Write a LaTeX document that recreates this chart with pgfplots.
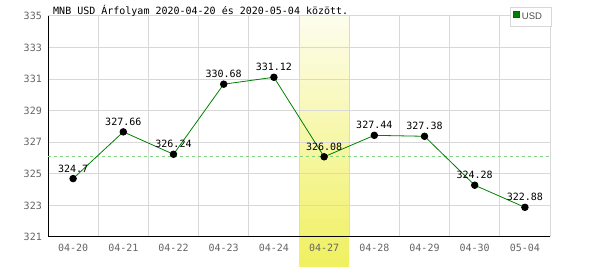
\documentclass[border=0pt]{standalone}
\usepackage{pgfplots}
\pgfplotsset{compat=1.18}
\usepackage{fontspec}
\setmainfont{DejaVu Sans}
\newfontfamily\monofont{DejaVu Sans Mono}
\newfontfamily\legfont{Liberation Sans}
\definecolor{gridgray}{RGB}{216,216,216}
\definecolor{ticktext}{RGB}{100,100,100}
\definecolor{linegreen}{RGB}{0,128,0}
\definecolor{avggreen}{RGB}{130,210,130}
\definecolor{hltop}{RGB}{253,253,238}
\definecolor{hlbot}{RGB}{240,240,96}
\definecolor{legtext}{RGB}{80,80,80}
\pgfdeclarelayer{highlight}
\pgfplotsset{
  layers/mylayers/.define layer set={
    axis background,axis grid,highlight,axis ticks,axis lines,axis tick labels,main,axis descriptions,axis foreground
  }{},
}
\pgfplotstableread{
x y lab
0 324.70 324.7
1 327.66 327.66
2 326.24 326.24
3 330.68 330.68
4 331.12 331.12
5 326.08 326.08
6 327.44 327.44
7 327.38 327.38
8 324.28 324.28
9 322.88 322.88
}\usddata
\begin{document}
\begin{tikzpicture}[x=1pt,y=1pt]
\begin{axis}[
 set layers=mylayers,
 at={(48pt,33pt)}, anchor=south west,
 scale only axis, width=502pt, height=221pt,
 xmin=-0.5, xmax=9.5, ymin=321, ymax=335,
 clip=false,
 axis line style={draw=none},
 xtick={0,...,9},
 xticklabels={04-20,04-21,04-22,04-23,04-24,04-27,04-28,04-29,04-30,05-04},
 minor xtick={-0.5,0.5,...,9.5},
 xminorgrids=true,
 ytick={321,323,...,335},
 ymajorgrids=true,
 grid style={gridgray, line width=1pt},
 minor grid style={gridgray, line width=1pt},
 major tick length=0pt, minor tick length=0pt,
 tick label style={font=\monofont\fontsize{10}{12}\selectfont, text=ticktext},
 /pgf/number format/assume math mode=true,
 yticklabel style={inner sep=0pt, anchor=east, xshift=-6pt},
 xticklabel style={inner sep=0pt, anchor=north, yshift=-7pt},
 legend style={at={(rel axis cs:1.004,1.041)}, anchor=north east, draw=gridgray, line width=1pt,
   font=\legfont\fontsize{9.5}{11}\selectfont, text=legtext, inner xsep=2pt, inner ysep=3.5pt},
 legend image code/.code={\draw[fill=linegreen, draw=darkgray, line width=0.6pt] (0pt,-0.5pt) rectangle (6pt,5.5pt);},
 legend style={nodes={inner xsep=2.5pt}},
]
\addlegendimage{fill=linegreen}
\addlegendentry{USD\kern5pt}
\begin{pgfonlayer}{highlight}
\fill[top color=hltop, bottom color=hlbot] (axis cs:4.5,319.1) rectangle (axis cs:5.5,335);
\end{pgfonlayer}
\draw[black, line width=1pt] (rel axis cs:0,1) -- (rel axis cs:0,0) -- (rel axis cs:1,0);
\addplot[avggreen, dash pattern=on 3pt off 3pt, line width=0.8pt, forget plot] coordinates {(-0.5,326.08) (9.5,326.08)};
\addplot[linegreen, line width=0.8pt, mark=*, mark size=3.3pt,
  mark options={fill=black, draw=black}, forget plot,
  nodes near coords, point meta=explicit symbolic,
  every node near coord/.append style={anchor=center, yshift=10pt,
    font=\monofont\fontsize{10}{12}\selectfont, text=black, inner sep=0pt}]
  table[x=x, y=y, meta=lab] {\usddata};
\node[anchor=base west, inner sep=0pt, font=\monofont\fontsize{10}{12}\selectfont, yshift=1pt]
  at (rel axis cs:0.01,1) {MNB USD Árfolyam 2020-04-20 és 2020-05-04 között.};
\end{axis}
\path (0,0) rectangle (600,270);
\end{tikzpicture}
\end{document}
